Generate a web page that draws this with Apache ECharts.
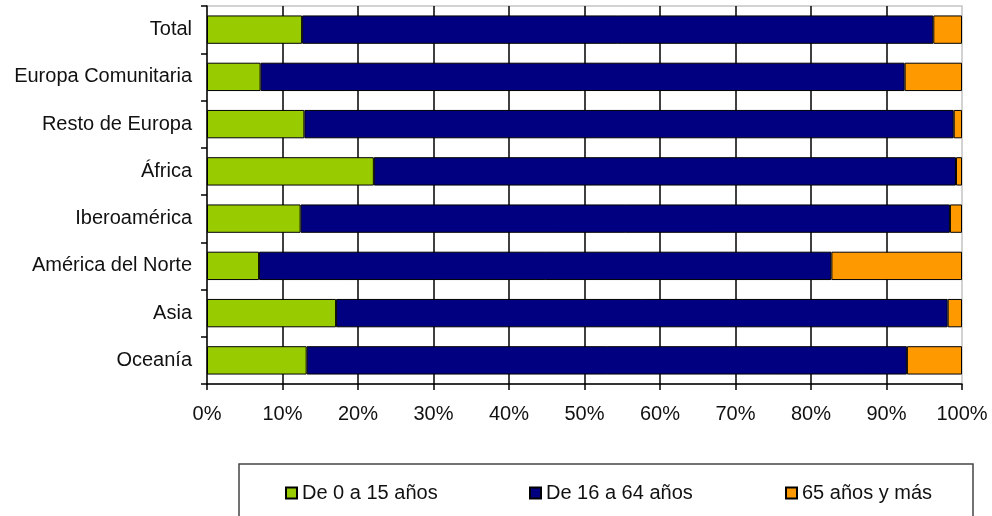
<!DOCTYPE html>
<html>
<head>
<meta charset="utf-8">
<style>
  html, body { margin: 0; padding: 0; background: #fff; }
  #chart { width: 992px; height: 516px; }
</style>
<script src="https://cdn.jsdelivr.net/npm/echarts@6/dist/echarts.min.js"></script>
</head>
<body>
<div id="chart"></div>
<script>
// Population by origin region, share of each age group (%)
const regions = ['Total', 'Europa Comunitaria', 'Resto de Europa', 'África',
                 'Iberoamérica', 'América del Norte', 'Asia', 'Oceanía'];
const age0to15  = [12.6, 7.1, 12.9, 22.1, 12.4, 6.9, 17.1, 13.2];
const age16to64 = [83.6, 85.3, 86.0, 77.1, 86.0, 75.8, 81.0, 79.5];
const age65plus = [3.8, 7.6, 1.1, 0.8, 1.6, 17.3, 1.9, 7.3];
const groupNames = ['De 0 a 15 años', 'De 16 a 64 años', '65 años y más'];
const xTicks = [0, 10, 20, 30, 40, 50, 60, 70, 80, 90, 100];

const FONT = '"Liberation Sans", Arial, sans-serif';
const colors = ['#99cc00', '#000080', '#ff9900'];
const groups = [age0to15, age16to64, age65plus];

const chart = echarts.init(document.getElementById('chart'), null, { renderer: 'canvas' });

const series = groups.map((vals, i) => ({
  name: groupNames[i],
  type: 'bar',
  stack: 'share',
  data: vals,
  barCategoryGap: '40%',
  itemStyle: { color: colors[i], borderColor: '#000', borderWidth: 1 },
  emphasis: { disabled: true },
  animation: false
}));

const legendLefts = [280, 524, 780];
const legends = groupNames.map((n, i) => ({
  data: [n],
  left: legendLefts[i],
  top: 478,
  icon: 'rect',
  itemWidth: 11,
  itemHeight: 11,
  selectedMode: false,
  textStyle: { fontFamily: FONT, fontSize: 20, color: '#111' }
}));

chart.setOption({
  backgroundColor: '#fff',
  animation: false,
  grid: {
    left: 207, right: 30, top: 6, bottom: 132,
    show: true, borderColor: '#c4c4c4', borderWidth: 1.5, backgroundColor: '#fff'
  },
  legend: legends,
  graphic: [{
    type: 'rect',
    shape: { x: 239, y: 464, width: 734, height: 70 },
    style: { fill: 'none', stroke: '#444', lineWidth: 1.5 },
    z: 0
  }],
  xAxis: {
    type: 'value',
    min: xTicks[0],
    max: xTicks[xTicks.length - 1],
    interval: 10,
    axisLine: { show: true, lineStyle: { color: '#000', width: 1.5 } },
    axisTick: { show: true, length: 6, lineStyle: { color: '#000', width: 1.5 } },
    axisLabel: {
      formatter: '{value}%', margin: 20,
      fontFamily: FONT, fontSize: 20, color: '#111'
    },
    splitLine: {
      show: true, showMinLine: false, showMaxLine: false,
      lineStyle: { color: '#000', width: 1.5 }
    }
  },
  yAxis: {
    type: 'category',
    data: regions,
    inverse: true,
    axisLine: { show: true, lineStyle: { color: '#000', width: 1.5 } },
    axisTick: { show: true, length: 6, interval: 0, lineStyle: { color: '#000', width: 1.5 } },
    axisLabel: { margin: 15, fontFamily: FONT, fontSize: 20, color: '#111' },
    splitLine: { show: false }
  },
  series: series
});
</script>
</body>
</html>
